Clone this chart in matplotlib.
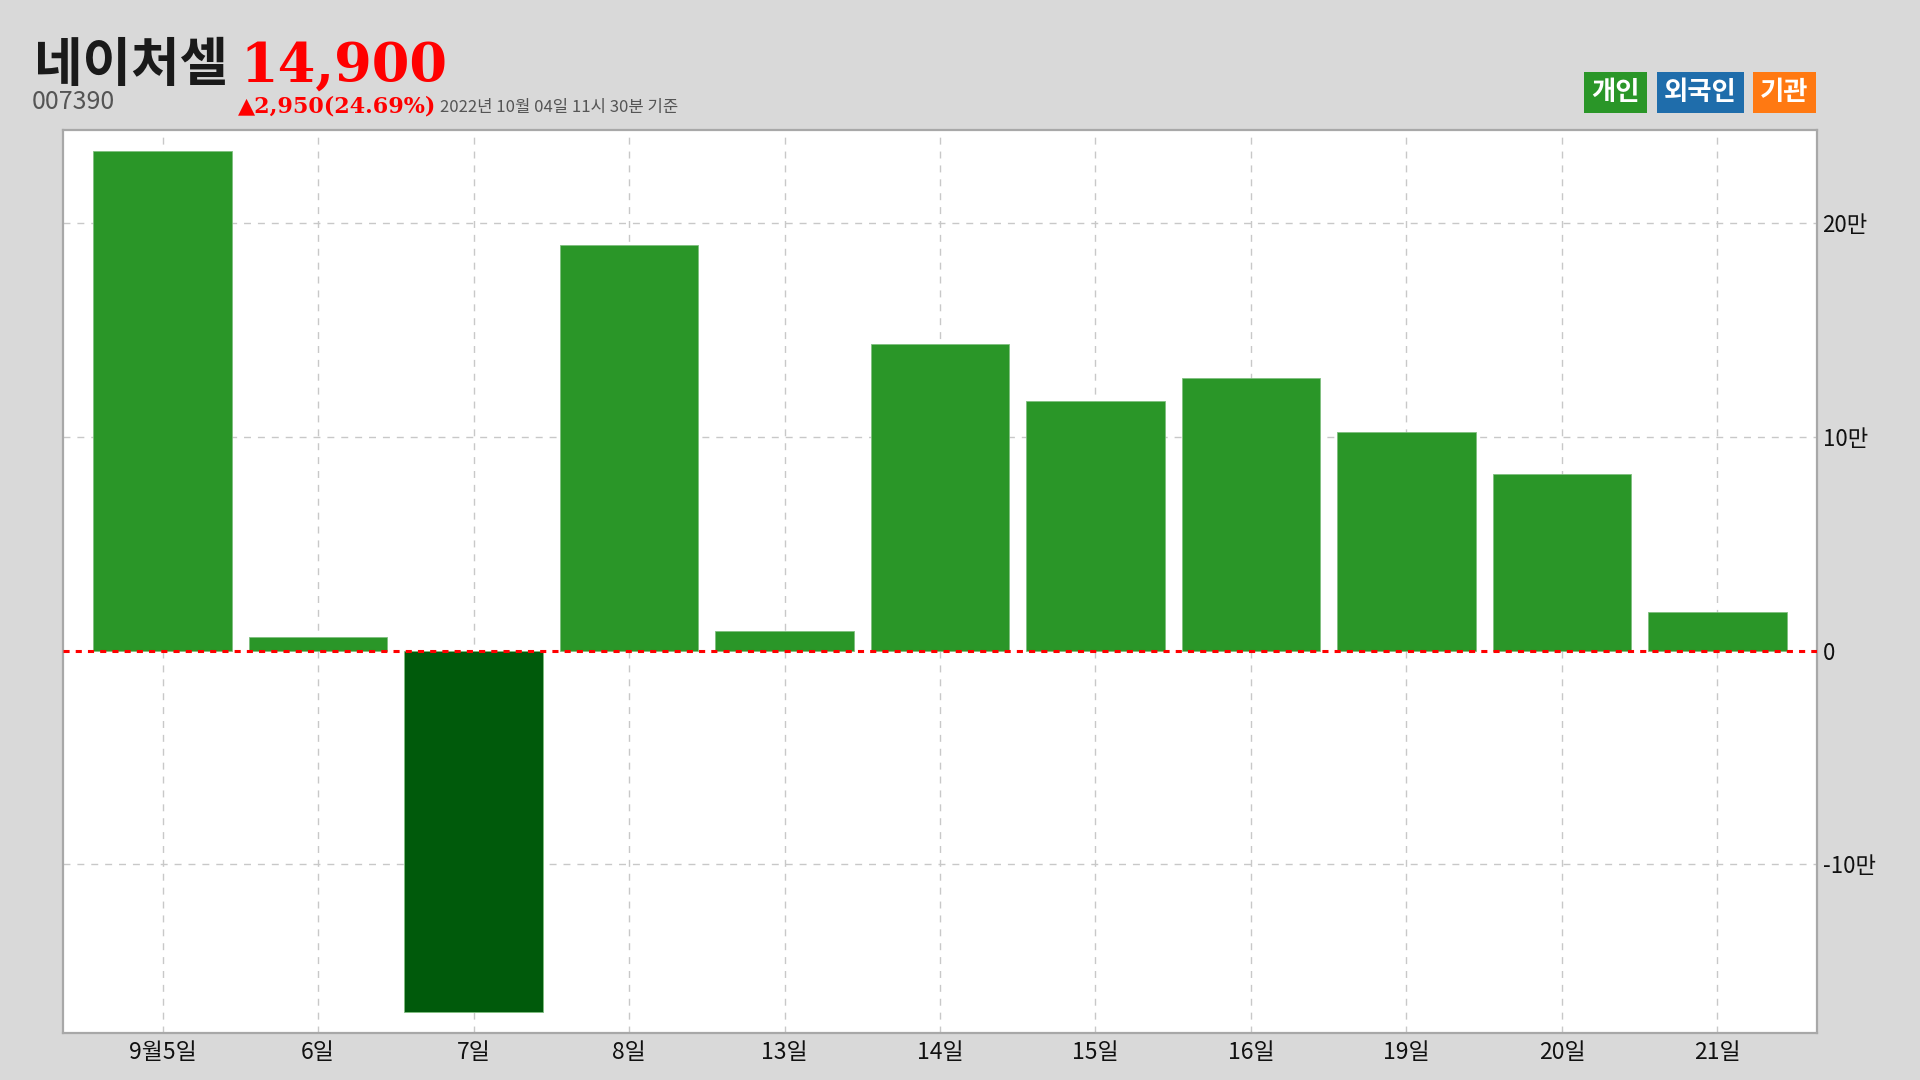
import matplotlib
matplotlib.use("Agg")
import matplotlib.pyplot as plt
from matplotlib.patches import Rectangle

plt.rcParams['font.family'] = ['Noto Sans CJK KR', 'DejaVu Sans']

# ---- data ----
stock_name = "네이처셀"
stock_code = "007390"
price_text = "14,900"
change_text = "▲2,950(24.69%)"
date_text = "2022년 10월 04일 11시 30분 기준"
dates = ["9월5일", "6일", "7일", "8일", "13일", "14일", "15일", "16일", "19일", "20일", "21일"]
individual = [233800, 6300, -169400, 189700, 9300, 143500, 116800, 127700, 102100, 82600, 17900]
yticks = [-100000, 0, 100000, 200000]
ytick_labels = ["-10만", "0", "10만", "20만"]
legend_labels = ["개인", "외국인", "기관"]
legend_colors = ["#2a9628", "#1f6dab", "#ff7912"]

pos_color = "#2a9628"
neg_color = "#005a0b"

W, H = 1920, 1080
fig = plt.figure(figsize=(19.2, 10.8), dpi=100, facecolor="#d9d9d9")
ax = fig.add_axes([63 / W, 1 - 1033 / H, (1817 - 63) / W, (1033 - 130) / H])
ax.set_facecolor("white")

x = list(range(len(dates)))
colors = [pos_color if v >= 0 else neg_color for v in individual]
ax.bar(x, individual, width=0.89, color=colors, edgecolor="#7fbf7f", linewidth=0.6, zorder=3)

ax.set_xlim(-0.64, len(dates) - 1 + 0.64)
ax.set_ylim(-179000, 243700)

# grid
for xi in x:
    ax.axvline(xi, color="#c8c8c8", linestyle=(0, (5, 5)), linewidth=1.0, zorder=1)
for yv in yticks:
    if yv != 0:
        ax.axhline(yv, color="#c8c8c8", linestyle=(0, (5, 5)), linewidth=1.0, zorder=1)
ax.axhline(0, color="#ff0000", linestyle=(0, (2, 2)), linewidth=2.2, zorder=4)

ax.set_xticks(x)
ax.set_xticklabels(dates, fontsize=16.5, color="#111111")
ax.yaxis.tick_right()
ax.set_yticks(yticks)
ax.set_yticklabels(ytick_labels, fontsize=16, color="#111111")
ax.tick_params(axis="both", length=0)
ax.tick_params(axis="x", pad=6)
ax.tick_params(axis="y", pad=4)

for s in ax.spines.values():
    s.set_color("#a8a8a8")
    s.set_linewidth(1.6)

# ---- header ----
def fy(py):
    return 1 - py / H

fig.text(34 / W, fy(81), stock_name, fontsize=38, fontweight="black", color="#1a1a1a", va="baseline", ha="left")
fig.text(240 / W, fy(82), price_text, fontsize=39, fontweight="bold", color="#ff0000",
         family=["DejaVu Serif"], va="baseline", ha="left")
fig.text(32 / W, fy(109), stock_code, fontsize=18, fontweight="medium", color="#555555", va="baseline", ha="left")
fig.text(238 / W, fy(113), change_text, fontsize=16, fontweight="bold", color="#ff0000",
         family=["DejaVu Serif", "DejaVu Sans"], va="baseline", ha="left")
fig.text(440 / W, fy(112), date_text, fontsize=12, color="#555555", va="baseline", ha="left")

# legend boxes
boxes = [(1584, 1647), (1657, 1744), (1753, 1816)]
for (x0, x1), lab, col in zip(boxes, legend_labels, legend_colors):
    fig.add_artist(Rectangle((x0 / W, fy(113)), (x1 - x0) / W, 41 / H,
                             transform=fig.transFigure, facecolor=col, edgecolor="none"))
    fig.text((x0 + x1) / 2 / W, fy(92.5), lab, fontsize=19, fontweight="bold", color="white",
             ha="center", va="center")

fig.savefig("out.png", dpi=100, facecolor=fig.get_facecolor())
